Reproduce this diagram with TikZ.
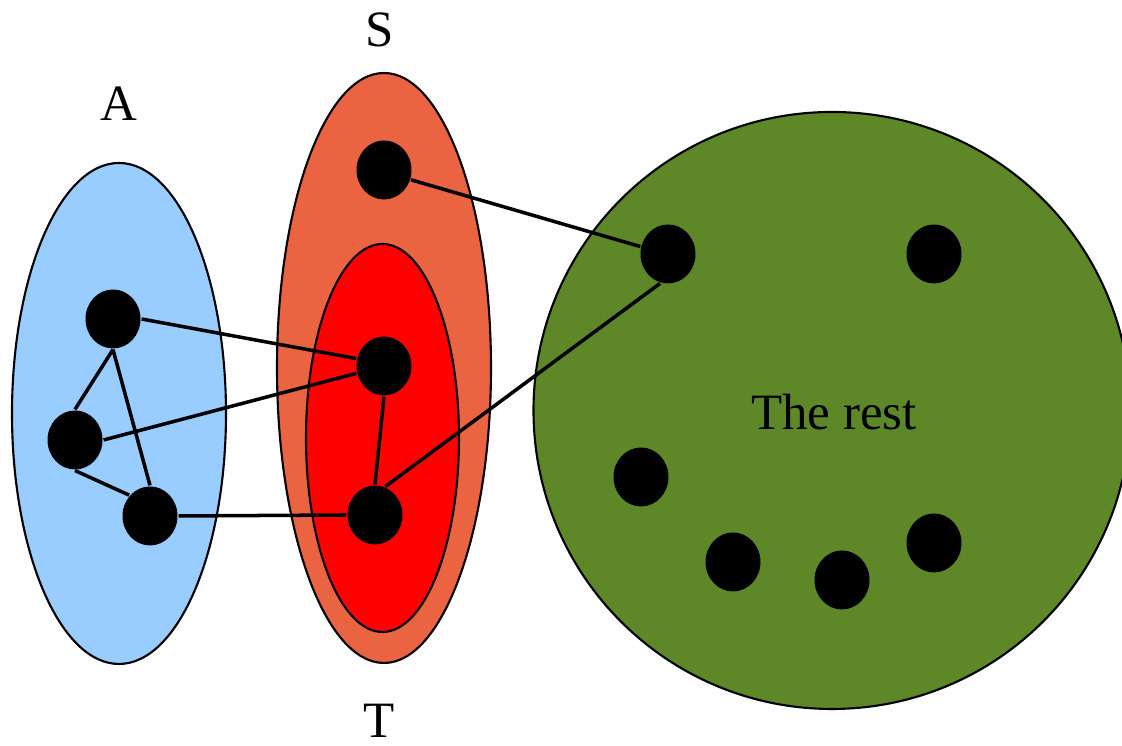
\documentclass[tikz,border=0pt]{standalone}
\usepackage{fontspec}
\setmainfont{Liberation Serif}
\usetikzlibrary{shapes.geometric}
\definecolor{setA}{HTML}{99CCFF}
\definecolor{setS}{HTML}{EA6442}
\definecolor{setT}{HTML}{FF0000}
\definecolor{rest}{HTML}{5E8828}
\tikzset{
 vtx/.style={ellipse,fill=black,inner sep=0pt,minimum width=.55cm,minimum height=.59cm},
 lbl/.style={inner sep=0pt,font=\fontsize{14.5}{16}\selectfont}
}
\begin{document}
\begin{tikzpicture}[line width=.6pt]
 \useasboundingbox (0,0) rectangle (11.22,7.46);
 \filldraw[fill=setA] (1.19,3.325) ellipse[x radius=1.07,y radius=2.505];
 \filldraw[fill=setS] (3.84,3.78) ellipse[x radius=1.07,y radius=2.95];
 \filldraw[fill=setT] (3.825,3.08) ellipse[x radius=.765,y radius=1.94];
 \filldraw[fill=rest] (8.32,3.355) circle (2.985);
 \node[lbl] (lA) at (1.19,6.425) {A};
 \node[lbl] (lS) at (3.80,7.16) {S};
 \node[lbl] (lT) at (3.79,.25) {T};
 \node[lbl] (lR) at (8.34,3.34) {The rest};
 % vertices
 \node[vtx] (a1) at (1.13,4.27) {};
 \node[vtx] (a2) at (.75,3.06) {};
 \node[vtx] (a3) at (1.50,2.30) {};
 \node[vtx] (s1) at (3.84,5.76) {};
 \node[vtx] (t1) at (3.84,3.80) {};
 \node[vtx] (t2) at (3.75,2.31) {};
 \node[vtx] (r1) at (6.68,4.92) {};
 \node[vtx] (r2) at (9.34,4.92) {};
 \node[vtx] (r3) at (6.41,2.69) {};
 \node[vtx] (r4) at (7.33,1.84) {};
 \node[vtx] (r5) at (8.42,1.66) {};
 \node[vtx] (r6) at (9.34,2.03) {};
 % edges
 \draw[line width=1pt] (a1.east)--(t1.165) (a1.south)--(a2.north) (a1.south)--(a3.north)
  (a2.south)--(a3.135) (a2.east)--(t1.195);
 \draw[line width=1pt] (a3.east)--(t2.west) (t1.south)--(t2.north) (t2.70)--(r1.255)
  (s1.-20)--(r1.165);
\end{tikzpicture}
\end{document}
